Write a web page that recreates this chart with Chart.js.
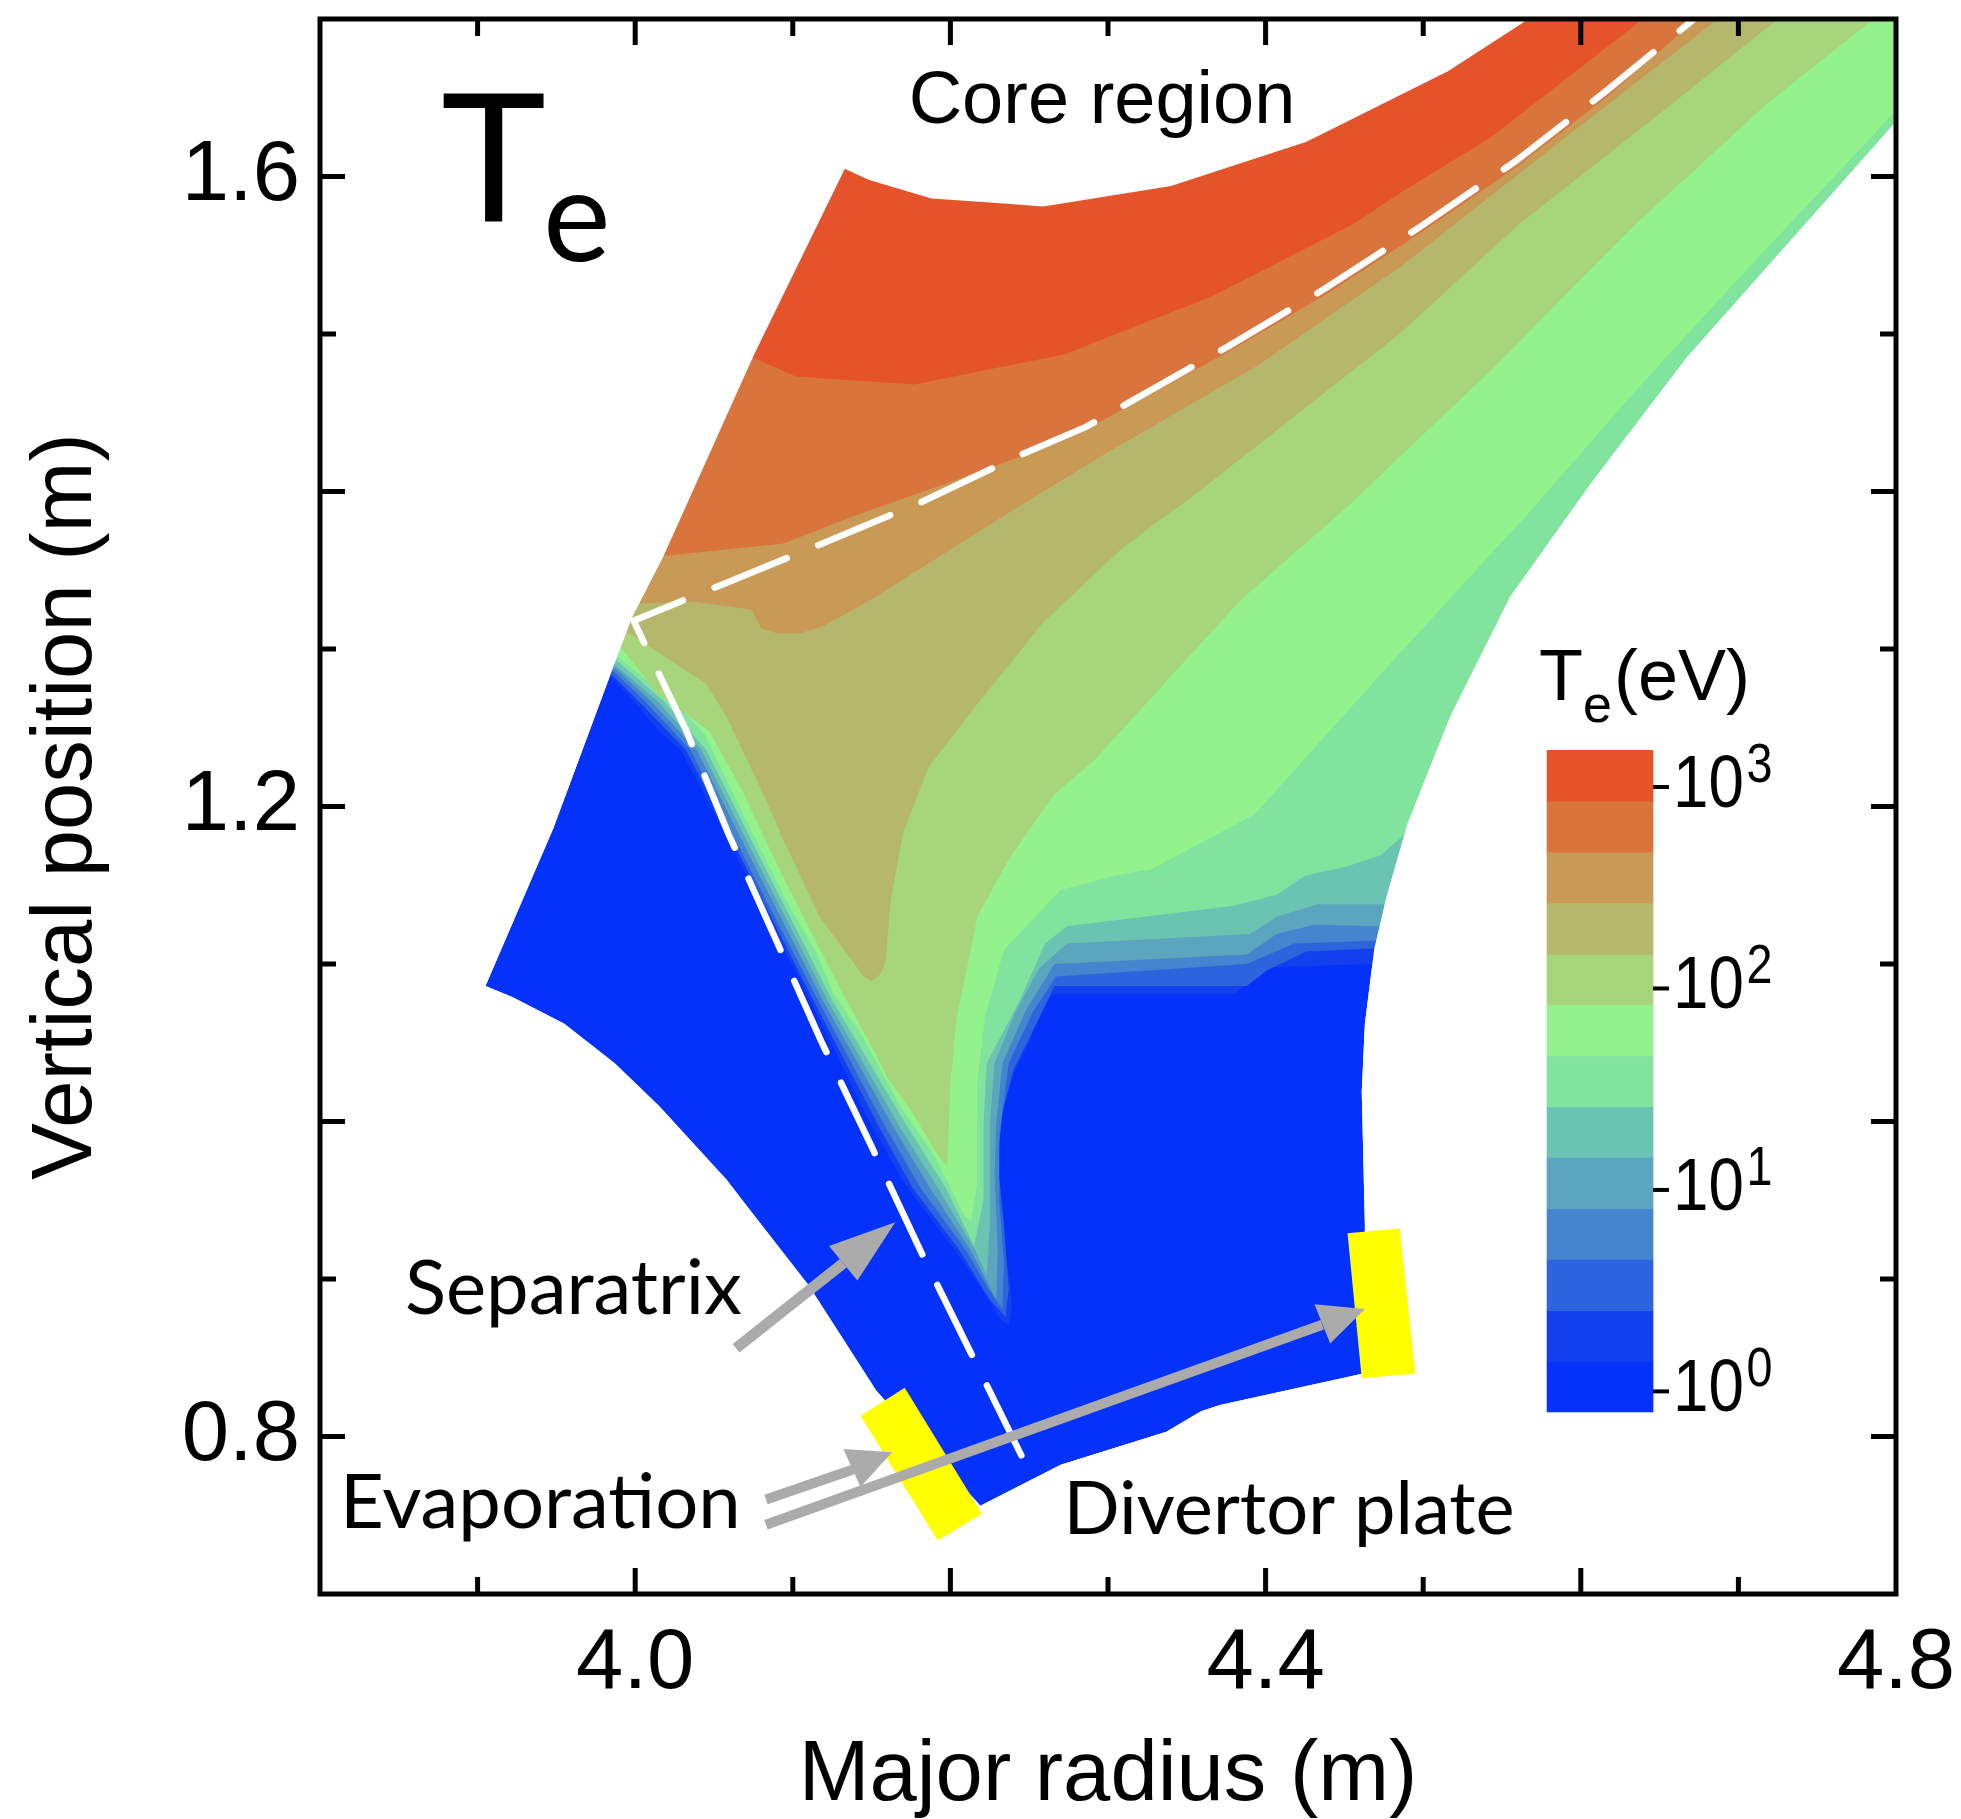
<!DOCTYPE html>
<html>
<head>
<meta charset="utf-8">
<script src="https://cdn.jsdelivr.net/npm/chart.js@4.4.1/dist/chart.umd.min.js"></script>
<style>
html,body{margin:0;padding:0;background:#ffffff;}
canvas{display:block;}
</style>
</head>
<body>
<canvas id="c" width="1961" height="1819"></canvas>
<script>
// ================= DATA =================
// Colour levels of Te (eV), lowest band first
const levelColors = ['#0532FA','#1340EF','#2D64DE','#4585CF','#5BA6BE','#6BC4B2','#80E39E','#93F28B','#A6D57B','#B5B86C','#C89A55','#D8743C','#E5532A'];
// Band boundaries of the colour bar (eV, log spaced)
const cbLevels = [0.79, 1.41, 2.52, 4.52, 8.09, 14.5, 25.9, 46.3, 82.9, 148, 266, 475, 850, 1520];
const cbTickValues = [1, 10, 100, 1000];
const cbTickExponents = ['0', '1', '2', '3'];

// Computational domain outline [R (m), Z (m)]
const domain = [[4.133,1.605],[4.148,1.598],[4.188,1.586],[4.232,1.583],[4.259,1.581],[4.340,1.594],[4.426,1.622],[4.516,1.667],[4.570,1.702],[4.597,1.728],[4.867,1.728],[4.835,1.674],[4.801,1.636],[4.667,1.485],[4.607,1.406],[4.555,1.333],[4.517,1.257],[4.490,1.189],[4.477,1.144],[4.469,1.110],[4.463,1.062],[4.461,1.019],[4.463,0.934],[4.462,0.840],[4.371,0.820],[4.359,0.816],[4.337,0.803],[4.270,0.782],[4.219,0.756],[4.153,0.829],[4.110,0.896],[4.068,0.950],[4.058,0.963],[4.015,1.010],[3.987,1.037],[3.955,1.062],[3.922,1.079],[3.905,1.086],[3.948,1.186],[3.984,1.283],[3.998,1.320],[4.018,1.359],[4.075,1.486]];

// Regions where Te exceeds each colour boundary (filled contours)
const teAbove1_41 = [[3.970,1.283],[3.984,1.283],[3.999,1.267],[4.015,1.248],[4.029,1.236],[4.071,1.156],[4.111,1.077],[4.147,1.003],[4.170,0.962],[4.200,0.922],[4.223,0.889],[4.232,0.874],[4.237,0.871],[4.239,0.880],[4.238,0.897],[4.232,0.929],[4.229,0.960],[4.232,1.003],[4.237,1.020],[4.242,1.035],[4.251,1.052],[4.257,1.075],[4.266,1.081],[4.380,1.081],[4.403,1.098],[4.467,1.100],[4.549,1.100],[4.95,1.100],[4.95,1.8],[3.95,1.8]];
const teAbove2_52 = [[3.970,1.284],[3.985,1.284],[4.002,1.267],[4.032,1.236],[4.073,1.156],[4.113,1.077],[4.154,0.998],[4.176,0.958],[4.206,0.918],[4.225,0.887],[4.235,0.876],[4.237,0.894],[4.234,0.934],[4.230,0.974],[4.233,1.006],[4.240,1.033],[4.256,1.065],[4.266,1.086],[4.388,1.086],[4.401,1.096],[4.426,1.108],[4.471,1.110],[4.549,1.110],[4.95,1.110],[4.95,1.8],[3.95,1.8]];
const teAbove4_52 = [[3.970,1.286],[3.986,1.286],[4.006,1.267],[4.035,1.236],[4.075,1.156],[4.116,1.077],[4.158,0.998],[4.181,0.958],[4.210,0.918],[4.224,0.894],[4.233,0.881],[4.234,0.910],[4.231,0.950],[4.231,0.990],[4.237,1.037],[4.252,1.069],[4.267,1.092],[4.388,1.100],[4.418,1.113],[4.471,1.115],[4.549,1.115],[4.95,1.115],[4.95,1.8],[3.95,1.8]];
const teAbove8_09 = [[3.970,1.288],[3.987,1.288],[4.010,1.267],[4.039,1.236],[4.079,1.156],[4.119,1.077],[4.163,0.998],[4.187,0.958],[4.213,0.918],[4.229,0.887],[4.230,0.918],[4.228,0.966],[4.229,0.998],[4.233,1.037],[4.248,1.071],[4.266,1.100],[4.388,1.106],[4.407,1.119],[4.431,1.125],[4.473,1.124],[4.549,1.125],[4.95,1.125],[4.95,1.8],[3.95,1.8]];
const teAbove14_5 = [[3.970,1.290],[3.987,1.290],[4.014,1.267],[4.042,1.236],[4.082,1.156],[4.122,1.077],[4.167,0.998],[4.192,0.958],[4.216,0.918],[4.223,0.902],[4.225,0.934],[4.225,0.998],[4.228,1.037],[4.241,1.069],[4.256,1.097],[4.274,1.113],[4.390,1.119],[4.407,1.130],[4.433,1.138],[4.475,1.138],[4.549,1.140],[4.95,1.140],[4.95,1.8],[3.95,1.8]];
const teAbove25_9 = [[3.970,1.293],[3.988,1.293],[4.018,1.267],[4.045,1.236],[4.085,1.156],[4.125,1.077],[4.172,0.998],[4.197,0.958],[4.215,0.921],[4.221,0.950],[4.221,0.998],[4.223,1.037],[4.244,1.077],[4.260,1.113],[4.274,1.124],[4.380,1.137],[4.407,1.144],[4.425,1.156],[4.452,1.162],[4.473,1.169],[4.489,1.183],[4.549,1.220],[4.95,1.220],[4.95,1.8],[3.95,1.8]];
const teAbove46_3 = [[3.970,1.298],[3.989,1.295],[4.024,1.267],[4.044,1.246],[4.067,1.198],[4.096,1.140],[4.114,1.109],[4.126,1.081],[4.143,1.056],[4.168,1.010],[4.190,0.978],[4.209,0.940],[4.213,0.937],[4.217,0.960],[4.217,1.024],[4.222,1.067],[4.234,1.109],[4.270,1.147],[4.308,1.157],[4.327,1.160],[4.393,1.195],[4.473,1.284],[4.549,1.367],[4.564,1.383],[4.634,1.463],[4.698,1.533],[4.787,1.628],[4.835,1.680],[4.867,1.728],[4.9,1.8],[3.95,1.8]];
const teAbove82_9 = [[3.970,1.307],[3.991,1.301],[4.015,1.271],[4.047,1.248],[4.069,1.208],[4.083,1.178],[4.096,1.151],[4.120,1.104],[4.134,1.077],[4.152,1.044],[4.160,1.028],[4.175,1.007],[4.190,0.982],[4.198,0.971],[4.200,1.024],[4.204,1.066],[4.213,1.109],[4.217,1.130],[4.238,1.168],[4.266,1.208],[4.291,1.229],[4.384,1.331],[4.456,1.394],[4.486,1.423],[4.541,1.475],[4.634,1.569],[4.719,1.647],[4.786,1.700],[4.811,1.728],[4.82,1.8],[3.95,1.8]];
const teAbove148 = [[3.978,1.310],[3.996,1.310],[4.045,1.278],[4.058,1.257],[4.084,1.202],[4.093,1.181],[4.117,1.130],[4.145,1.092],[4.150,1.089],[4.156,1.094],[4.159,1.102],[4.162,1.140],[4.170,1.183],[4.186,1.225],[4.217,1.265],[4.259,1.317],[4.308,1.363],[4.333,1.382],[4.350,1.394],[4.486,1.501],[4.560,1.569],[4.659,1.647],[4.725,1.700],[4.748,1.728],[4.76,1.8],[3.95,1.8]];
const teAbove266 = [[3.986,1.329],[4.003,1.329],[4.038,1.330],[4.074,1.325],[4.080,1.313],[4.090,1.310],[4.105,1.310],[4.120,1.315],[4.151,1.332],[4.206,1.367],[4.249,1.394],[4.300,1.425],[4.395,1.480],[4.486,1.543],[4.570,1.609],[4.687,1.700],[4.708,1.728],[4.72,1.8],[3.95,1.8]];
const teAbove475 = [[3.994,1.358],[4.018,1.359],[4.094,1.367],[4.140,1.385],[4.200,1.406],[4.244,1.422],[4.287,1.440],[4.375,1.488],[4.438,1.525],[4.498,1.564],[4.559,1.606],[4.617,1.651],[4.676,1.702],[4.696,1.728],[4.70,1.8],[3.95,1.8]];
const teAbove850 = [[4.041,1.498],[4.075,1.485],[4.102,1.473],[4.177,1.468],[4.232,1.479],[4.272,1.487],[4.366,1.524],[4.456,1.570],[4.486,1.590],[4.543,1.625],[4.642,1.702],[4.660,1.728],[4.66,1.8],[4.0,1.8]];

// Separatrix (dashed)
const separatrix = [[4.245,0.788],[4.213,0.853],[4.181,0.918],[4.150,0.984],[4.118,1.051],[4.089,1.116],[4.059,1.183],[4.032,1.249],[4.008,1.299],[3.999,1.318],[4.048,1.338],[4.114,1.365],[4.181,1.393],[4.244,1.423],[4.286,1.441],[4.376,1.492],[4.438,1.529],[4.498,1.568],[4.559,1.610],[4.617,1.655],[4.673,1.701],[4.708,1.732]];

// Divertor plates
const innerPlate = [[4.143,0.813],[4.171,0.831],[4.220,0.751],[4.192,0.734]];
const outerPlate = [[4.452,0.929],[4.485,0.932],[4.495,0.840],[4.461,0.837]];

// Annotation arrows: shafts and heads
const arrowSepShaft = [[4.064,0.856],[4.132,0.910]];
const arrowSepHead = [[4.123,0.921],[4.165,0.936],[4.141,0.899]];
const arrowEvapShaft1 = [[4.083,0.760],[4.141,0.780]];
const arrowEvapHead1 = [[4.132,0.792],[4.163,0.790],[4.143,0.768]];
const arrowEvapShaft2 = [[4.083,0.744],[4.436,0.871]];
const arrowEvapHead2 = [[4.431,0.884],[4.463,0.881],[4.441,0.859]];

// ================= LAYOUT / STYLE =================
const FONT = "'Liberation Sans', Arial, sans-serif";
const LFONT = "Lato, 'Open Sans', sans-serif";
const cbCenterR = 4.6122;      // horizontal position of the colour bar (m)
const cbRange = [0.0987, 6.49e6]; // log axis range placing the colour bar
const textLabels = [
  {text: 'T', x: 3.8768, y: 1.5711, size: 178, family: LFONT, align: 'left'},
  {text: 'e', x: 3.9415, y: 1.5463, size: 128, family: LFONT, align: 'left'},
  {text: 'Core region', x: 4.2962, y: 1.634, size: 74, family: FONT, align: 'center'},
  {text: 'Separatrix', x: 3.8539, y: 0.8775, size: 76, family: LFONT, align: 'left'},
  {text: 'Evaporation', x: 3.8127, y: 0.7421, size: 76, family: LFONT, align: 'left'},
  {text: 'Divertor plate', x: 4.2717, y: 0.7384, size: 74, family: LFONT, align: 'left'}
];

const toXY = pts => pts.map(p => ({x: p[0], y: p[1]}));
const poly = (pts, color, order) => ({
  type: 'line', data: toXY(pts), fill: 'shape', backgroundColor: color,
  borderWidth: 0, pointRadius: 0, tension: 0, order, xAxisID: 'x', yAxisID: 'y'
});
const stroke = (pts, color, width, order, extra) => Object.assign({
  type: 'line', data: toXY(pts), fill: false, borderColor: color, borderWidth: width,
  pointRadius: 0, tension: 0, order, xAxisID: 'x', yAxisID: 'y'
}, extra || {});

// mask: everything outside the domain is white
const outerBox = [[3.6,1.9],[3.6,0.5],[5.0,0.5],[5.0,1.9],[3.6,1.9]];
const maskPts = outerBox.concat(domain, [domain[0], [3.6,1.9]]);

const regions = [domain, teAbove1_41, teAbove2_52, teAbove4_52, teAbove8_09, teAbove14_5, teAbove25_9, teAbove46_3, teAbove82_9, teAbove148, teAbove266, teAbove475, teAbove850];

const datasets = [];
regions.forEach((r, i) => datasets.push(poly(r, levelColors[i], 100 - i)));
datasets.push(poly(maskPts, '#ffffff', 60));
datasets.push(stroke(separatrix, '#ffffff', 6.5, 50, {borderDash: [78, 34], borderCapStyle: 'round'}));
datasets.push(poly(innerPlate, '#FFFF00', 40));
datasets.push(poly(outerPlate, '#FFFF00', 40));
const arrowGrey = '#ABABAB';
datasets.push(stroke(arrowSepShaft, arrowGrey, 11, 30));
datasets.push(poly(arrowSepHead, arrowGrey, 29));
datasets.push(stroke(arrowEvapShaft1, arrowGrey, 10, 30));
datasets.push(poly(arrowEvapHead1, arrowGrey, 29));
datasets.push(stroke(arrowEvapShaft2, arrowGrey, 10, 30));
datasets.push(poly(arrowEvapHead2, arrowGrey, 29));
const cbDatasetIndex = datasets.length;
datasets.push({
  type: 'bar', xAxisID: 'x', yAxisID: 'cb', order: 10,
  data: levelColors.map((c, i) => ({x: cbCenterR, y: [cbLevels[i], cbLevels[i + 1]]})),
  backgroundColor: levelColors, borderWidth: 0, barThickness: 106, grouped: false
});

const overlay = {
  id: 'overlay',
  afterDatasetsDraw(chart) {
    const {ctx, scales} = chart;
    const X = v => scales.x.getPixelForValue(v);
    const Y = v => scales.y.getPixelForValue(v);
    ctx.save();
    ctx.fillStyle = '#000';
    ctx.textBaseline = 'alphabetic';
    for (const t of textLabels) {
      ctx.font = t.size + 'px ' + t.family;
      ctx.textAlign = t.align;
      ctx.fillText(t.text, X(t.x), Y(t.y));
    }
    // colour bar title and ticks
    const bars = chart.getDatasetMeta(cbDatasetIndex).data;
    const b0 = bars[0];
    const left = b0.x - b0.width / 2, right = b0.x + b0.width / 2;
    const top = scales.cb.getPixelForValue(cbLevels[cbLevels.length - 1]);
    ctx.textAlign = 'left';
    let tx = left - 8; const ty = top - 50;
    ctx.font = '72px ' + FONT;
    ctx.fillText('T', tx, ty);
    tx += ctx.measureText('T').width;
    ctx.font = '52px ' + FONT;
    ctx.fillText('e', tx, ty + 22);
    tx += ctx.measureText('e').width;
    ctx.font = '72px ' + FONT;
    ctx.fillText('(eV)', tx + 2, ty);
    ctx.strokeStyle = '#000';
    ctx.lineWidth = 4;
    cbTickValues.forEach((v, i) => {
      const yy = scales.cb.getPixelForValue(v);
      ctx.beginPath(); ctx.moveTo(right, yy); ctx.lineTo(right + 16, yy); ctx.stroke();
      ctx.save();
      ctx.translate(right + 20, yy + 20);
      ctx.scale(0.85, 1);
      ctx.font = '75px ' + FONT;
      ctx.fillText('10', 0, 0);
      const w = ctx.measureText('10').width;
      ctx.font = '55px ' + FONT;
      ctx.fillText(cbTickExponents[i], w + 3, -25);
      ctx.restore();
    });
    ctx.restore();
  },
  afterDraw(chart) {
    const {ctx, chartArea: a, scales} = chart;
    ctx.save();
    ctx.strokeStyle = '#000';
    ctx.lineWidth = 5;
    ctx.beginPath();
    scales.x.ticks.forEach(t => {
      const v = t.value;
      if (v <= scales.x.min + 1e-6 || v >= scales.x.max - 1e-6) return;
      const p = scales.x.getPixelForValue(v);
      const len = Math.round(v * 10) % 2 === 0 ? 26 : 17;
      ctx.moveTo(p, a.bottom); ctx.lineTo(p, a.bottom - len);
      ctx.moveTo(p, a.top); ctx.lineTo(p, a.top + len);
    });
    scales.y.ticks.forEach(t => {
      const v = t.value;
      if (v <= scales.y.min + 1e-6 || v >= scales.y.max - 1e-6) return;
      const p = scales.y.getPixelForValue(v);
      const len = Math.round(v * 10) % 2 === 0 ? 25 : 16;
      ctx.moveTo(a.left, p); ctx.lineTo(a.left + len, p);
      ctx.moveTo(a.right, p); ctx.lineTo(a.right - len, p);
    });
    ctx.stroke();
    ctx.strokeRect(a.left, a.top, a.right - a.left, a.bottom - a.top);
    ctx.restore();
  }
};

const tickLabel = v => {
  const r = Math.round(v * 10);
  return r % 4 === 0 ? (r / 10).toFixed(1) : '';
};
const noPad = s => { s.paddingTop = 0; s.paddingBottom = 0; s.paddingLeft = 0; s.paddingRight = 0; };

new Chart(document.getElementById('c'), {
  type: 'line',
  data: {datasets},
  options: {
    responsive: false,
    animation: false,
    devicePixelRatio: 1,
    events: [],
    layout: {padding: {top: 19, right: 65, left: 0, bottom: 0}},
    plugins: {legend: {display: false}, tooltip: {enabled: false}},
    elements: {point: {radius: 0}},
    scales: {
      x: {
        type: 'linear', min: 3.8, max: 4.8, offset: false,
        grid: {display: false, drawTicks: false, offset: false},
        border: {display: false},
        ticks: {stepSize: 0.1, autoSkip: false, maxRotation: 0, maxTicksLimit: 20, padding: 20,
                color: '#000', font: {size: 85, family: FONT}, callback: tickLabel},
        title: {display: true, text: 'Major radius (m)', color: '#000',
                font: {size: 85, family: FONT, lineHeight: 1}, padding: {top: 0, bottom: 0}},
        afterFit: s => { s.height = 225; noPad(s); }
      },
      y: {
        type: 'linear', min: 0.7, max: 1.7,
        grid: {display: false, drawTicks: false},
        border: {display: false},
        ticks: {stepSize: 0.1, autoSkip: false, maxTicksLimit: 20, padding: 20,
                color: '#000', font: {size: 85, family: FONT}, callback: tickLabel},
        title: {display: true, text: 'Vertical position (m)', color: '#000',
                font: {size: 85, family: FONT, lineHeight: 1}, padding: {top: 25, bottom: 0}},
        afterFit: s => { s.width = 320; noPad(s); }
      },
      cb: {
        type: 'logarithmic', display: false, position: 'right',
        min: cbRange[0], max: cbRange[1], bounds: 'data', beginAtZero: false,
        afterFit: noPad
      }
    }
  },
  plugins: [overlay]
});
</script>
</body>
</html>
